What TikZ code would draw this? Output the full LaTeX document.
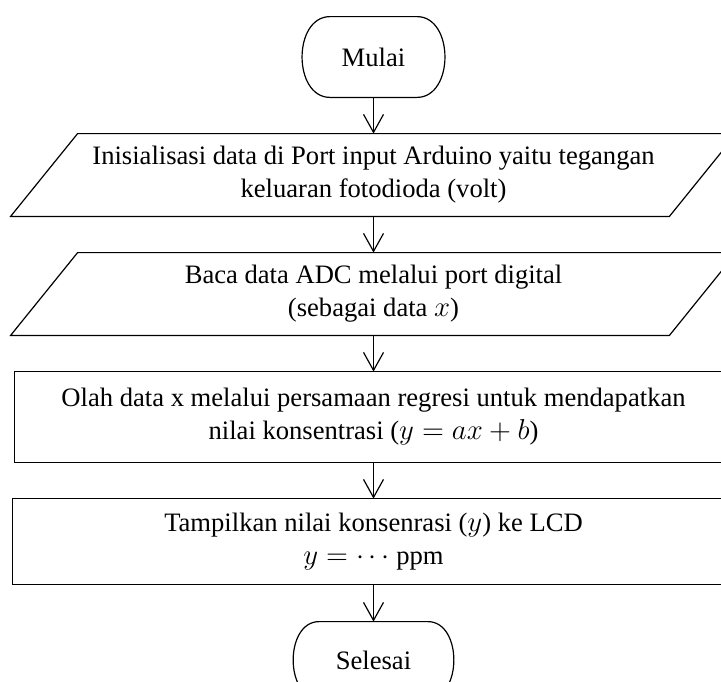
\documentclass[tikz,border=0pt]{standalone}
\usepackage{fontspec}
\setmainfont{Liberation Serif}
\usetikzlibrary{arrows.meta,calc}
\tikzset{
  box/.style={draw=none, inner sep=0pt, align=center, font=\fontsize{13.3}{16.5}\selectfont},
  flow/.style={-{Straight Barb[length=9pt,width=10pt]}, line width=0.6pt},
  outline/.style={line width=0.6pt},
}
\begin{document}
\begin{tikzpicture}[x=0.5pt,y=-0.5pt]
\useasboundingbox (0,0) rectangle (721,681);
\clip (0,0) rectangle (721,681);
% nodes
\node[box, minimum width=71pt, minimum height=40pt] (start) at (373.5,57) {Mulai};
\node[box, minimum width=329pt, minimum height=41pt] (p1) at (373.5,175)
  {Inisialisasi data di Port input Arduino yaitu tegangan\\keluaran fotodioda (volt)};
\node[box, minimum width=329pt, minimum height=41pt] (p2) at (373.5,294)
  {Baca data ADC melalui port digital\\(sebagai data $x$)};
\node[box, minimum width=359pt, minimum height=45pt] (r3) at (373.5,417)
  {Olah data x melalui persamaan regresi untuk mendapatkan\\nilai konsentrasi ($y=ax+b$)};
\node[box, minimum width=361pt, minimum height=42.5pt] (r4) at (373.5,541.5)
  {Tampilkan nilai konsenrasi ($y$) ke LCD\\$y=\cdots$ ppm};
\node[box, minimum width=80pt, minimum height=38pt] (stop) at (373.5,660) {Selesai};
% terminal outlines
\draw[outline] ([xshift=14pt]start.north west) -- ([xshift=-14pt]start.north east)
  .. controls ([xshift=4.7pt]start.north east) and ([xshift=4.7pt]start.south east) .. ([xshift=-14pt]start.south east)
  -- ([xshift=14pt]start.south west)
  .. controls ([xshift=-4.7pt]start.south west) and ([xshift=-4.7pt]start.north west) .. cycle;
\draw[outline] ([xshift=13pt]stop.north west) -- ([xshift=-13pt]stop.north east)
  .. controls ([xshift=4.3pt]stop.north east) and ([xshift=4.3pt]stop.south east) .. ([xshift=-13pt]stop.south east)
  -- ([xshift=13pt]stop.south west)
  .. controls ([xshift=-4.3pt]stop.south west) and ([xshift=-4.3pt]stop.north west) .. cycle;
% parallelograms
\foreach \n in {p1,p2}{
  \draw[outline] ([xshift=16.75pt]\n.north west) -- ([xshift=16.75pt]\n.north east)
    -- ([xshift=-16.75pt]\n.south east) -- ([xshift=-16.75pt]\n.south west) -- cycle;
}
% rectangles
\draw[outline] (r3.north west) rectangle (r3.south east);
\draw[outline] (r4.north west) rectangle (r4.south east);
% connectors
\draw[flow] (start.south) -- (p1.north);
\draw[flow] (p1.south) -- (p2.north);
\draw[flow] (p2.south) -- (r3.north);
\draw[flow] (r3.south) -- (r4.north);
\draw[flow] (r4.south) -- (stop.north);
\end{tikzpicture}
\end{document}
